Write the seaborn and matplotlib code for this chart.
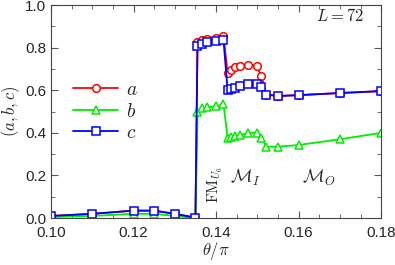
import matplotlib
matplotlib.use("Agg")
import matplotlib.pyplot as plt
import seaborn as sns
from matplotlib.ticker import MultipleLocator

# theta/pi sampling points
theta = [0.100, 0.110, 0.120, 0.125, 0.130, 0.135,
         0.1355, 0.1367, 0.1379, 0.1401, 0.1418,
         0.1428, 0.1437, 0.1447, 0.1459, 0.1478, 0.1498, 0.1510,
         0.1522, 0.1549, 0.160, 0.170, 0.180]

a_vals = [0.010, 0.020, 0.035, 0.035, 0.020, 0.002,
          0.825, 0.835, 0.840, 0.845, 0.855,
          0.680, 0.695, 0.710, 0.715, 0.720, 0.715, 0.665,
          0.580, 0.573, 0.577, 0.587, 0.596]

b_vals = [0.005, 0.010, 0.020, 0.020, 0.010, 0.000,
          0.500, 0.515, 0.520, 0.525, 0.535,
          0.375, 0.380, 0.385, 0.390, 0.400, 0.400, 0.375,
          0.335, 0.335, 0.343, 0.370, 0.400]

c_vals = [0.010, 0.020, 0.035, 0.035, 0.020, 0.002,
          0.810, 0.815, 0.825, 0.830, 0.835,
          0.600, 0.605, 0.610, 0.620, 0.630, 0.630, 0.615,
          0.580, 0.573, 0.577, 0.587, 0.596]

series = [("a", a_vals, "#ff0000", "o"),
          ("b", b_vals, "#00ee00", "^"),
          ("c", c_vals, "#0000ff", "s")]

sns.set_style("ticks")
plt.rcParams["font.family"] = ["Liberation Sans", "DejaVu Sans"]
plt.rcParams["mathtext.fontset"] = "cm"

fig = plt.figure(figsize=(3.95, 2.65), dpi=100)
ax = fig.add_axes([0.129, 0.177, 0.836, 0.804])

for name, vals, col, mk in series:
    sns.lineplot(x=theta, y=vals, ax=ax, color=col, marker=mk, markersize=5.5,
                 markerfacecolor="white", markeredgecolor=col, markeredgewidth=1.1,
                 linewidth=1.3, label=f"${name}$", sort=False)

ax.set_xlim(0.10, 0.18)
ax.set_ylim(0.0, 1.0)
ax.xaxis.set_major_locator(MultipleLocator(0.02))
ax.xaxis.set_minor_locator(MultipleLocator(0.005))
ax.yaxis.set_major_locator(MultipleLocator(0.2))
ax.yaxis.set_minor_locator(MultipleLocator(0.1))
ax.tick_params(which="both", direction="in", top=True, right=True, labelsize=11,
               color="#555555")
ax.tick_params(which="major", length=5)
ax.tick_params(which="minor", length=3)
ax.tick_params(axis="x", pad=6)
ax.xaxis.set_major_formatter(plt.FuncFormatter(lambda v, p: f"{v:.2f}"))
ax.yaxis.set_major_formatter(plt.FuncFormatter(lambda v, p: f"{v:.1f}"))
for sp in ax.spines.values():
    sp.set_color("#444444")

ax.set_xlabel(r"$\theta/\pi$", fontsize=12, labelpad=0)
ax.set_ylabel(r"$(a,b,c)$", fontsize=12, labelpad=2)

ax.text(0.1397, 0.16, r"$\mathrm{FM}_{U_6}$", rotation=90, fontsize=11,
        ha="center", va="center")
ax.text(0.1471, 0.19, r"$\mathcal{M}_I$", fontsize=13, ha="center", va="center")
ax.text(0.1648, 0.19, r"$\mathcal{M}_O$", fontsize=13, ha="center", va="center")
ax.text(0.1700, 0.95, r"$L=72$", fontsize=12, ha="center", va="center")

ax.legend(loc="center left", bbox_to_anchor=(0.015, 0.5), frameon=False,
          fontsize=14, handlelength=2.3, handletextpad=0.4, labelspacing=0.2)

fig.savefig("out.png", dpi=100)
